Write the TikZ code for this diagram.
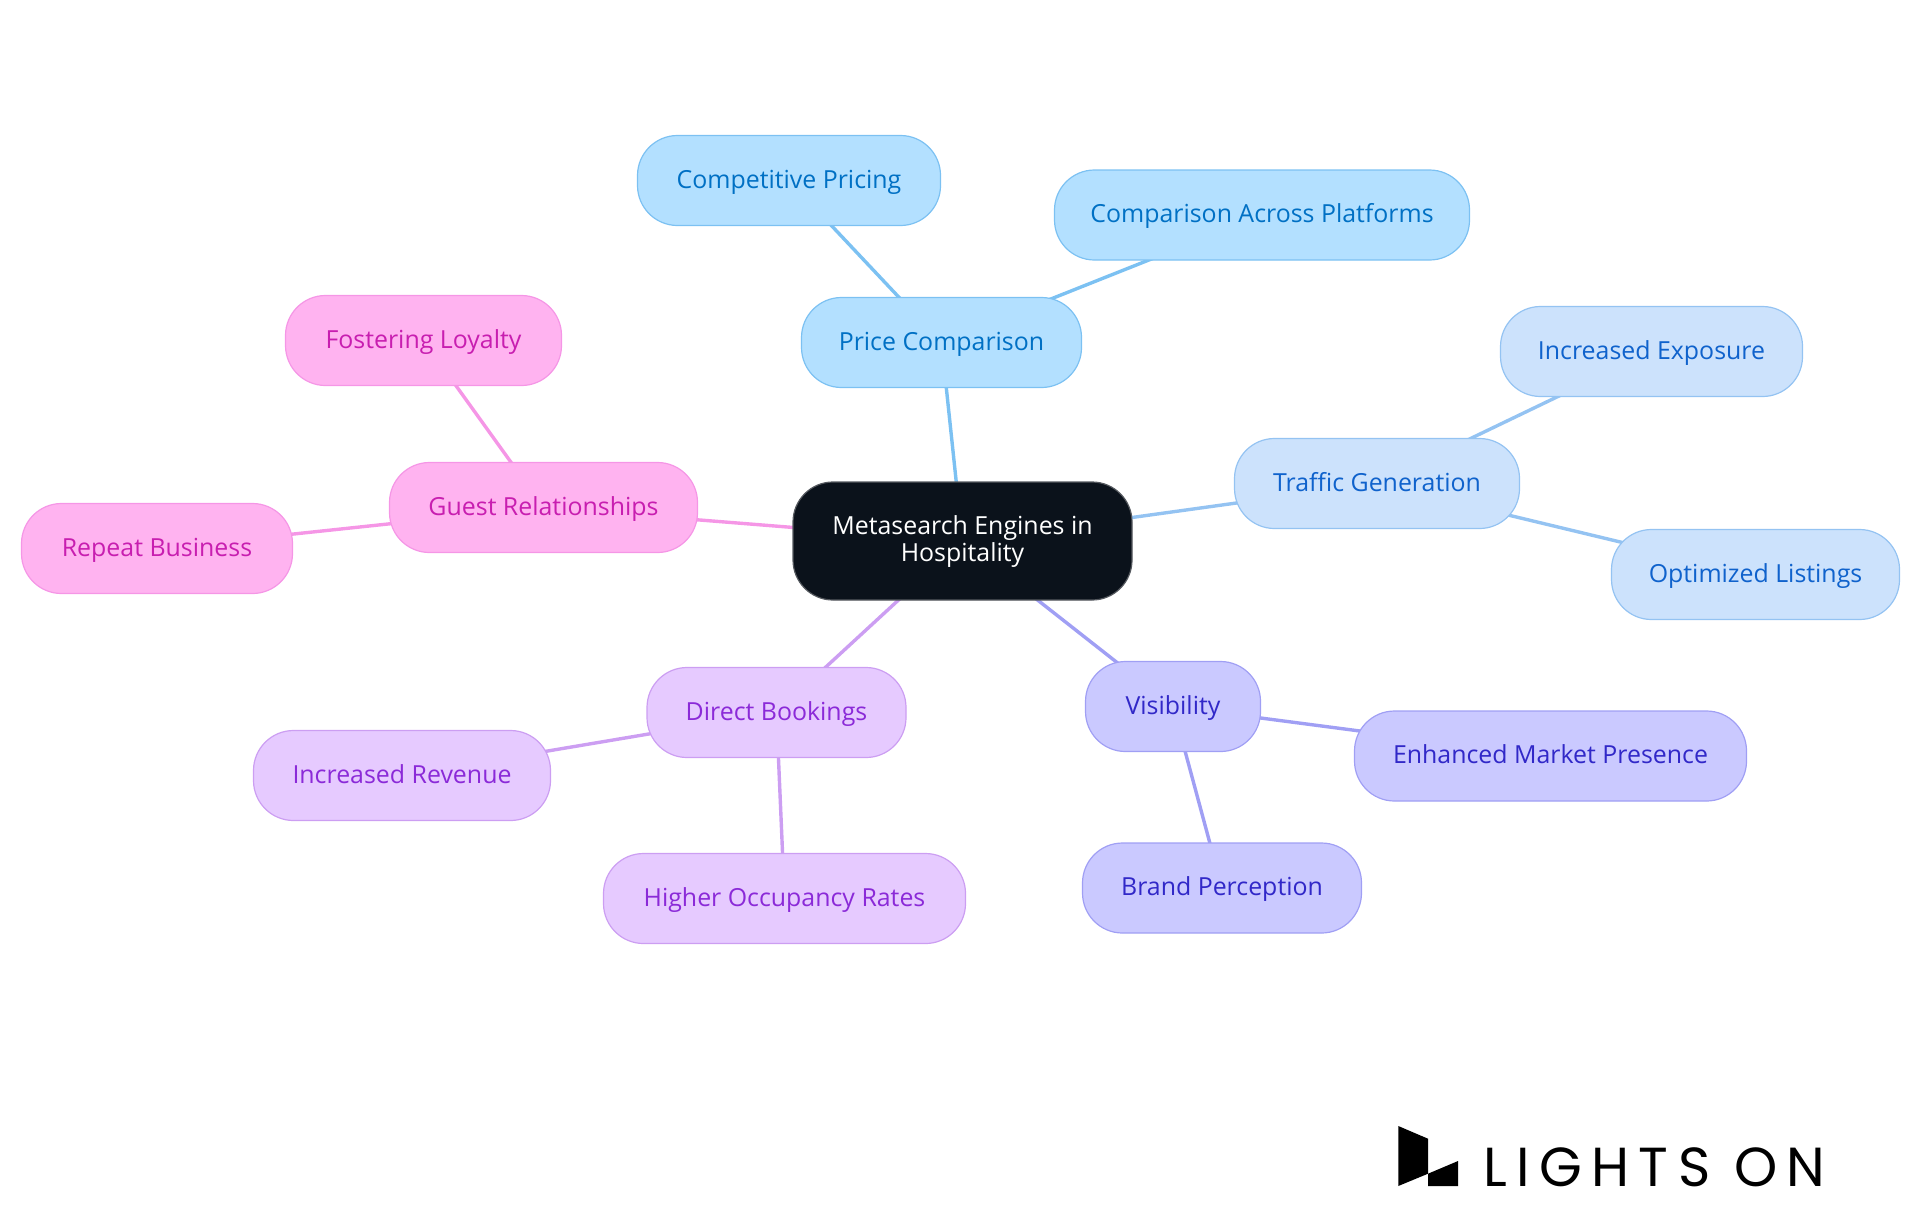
\documentclass[tikz,border=0pt]{standalone}
\usepackage{fontspec}
\setmainfont{Open Sans}
\newfontfamily\logofont[LetterSpace=17]{Poppins}
\usetikzlibrary{backgrounds}
\definecolor{rootfill}{HTML}{0B121B}
\definecolor{rootline}{HTML}{55595F}
\definecolor{pricefill}{HTML}{B3E0FF}
\definecolor{priceline}{HTML}{7CC1F2}
\definecolor{pricetext}{HTML}{0070C4}
\definecolor{trafficfill}{HTML}{CCE2FC}
\definecolor{trafficline}{HTML}{94C3F2}
\definecolor{traffictext}{HTML}{0F62CC}
\definecolor{visfill}{HTML}{CAC9FF}
\definecolor{visline}{HTML}{A09FF4}
\definecolor{vistext}{HTML}{3128C8}
\definecolor{directfill}{HTML}{E6CAFF}
\definecolor{directline}{HTML}{CC9EF2}
\definecolor{directtext}{HTML}{8B2AD8}
\definecolor{guestfill}{HTML}{FFB3F0}
\definecolor{guestline}{HTML}{F596E6}
\definecolor{guesttext}{HTML}{C81EB0}
\tikzset{
    mapbox/.style={rounded corners=20pt,line width=0.6pt,minimum height=45pt,inner sep=0pt,
        align=center,text height=9.5pt,text depth=2pt,font=\fontsize{12.45}{13.4}\selectfont},
    rootbox/.style={mapbox,draw=rootline,fill=rootfill,text=white,minimum height=59pt,text height=24pt,text depth=3.3pt},
    pricebox/.style={mapbox,draw=priceline,fill=pricefill,text=pricetext},
    trafficbox/.style={mapbox,draw=trafficline,fill=trafficfill,text=traffictext},
    visbox/.style={mapbox,draw=visline,fill=visfill,text=vistext},
    directbox/.style={mapbox,draw=directline,fill=directfill,text=directtext},
    guestbox/.style={mapbox,draw=guestline,fill=guestfill,text=guesttext},
    link/.style={line width=1.7pt}
}
\begin{document}
\begin{tikzpicture}[x=0.5pt,y=-0.5pt]
    \useasboundingbox (0,0) rectangle (1920,1215);
    % centre
    \node[rootbox,minimum width=169.5pt] (root) at (962.5,541) {Metasearch Engines in\\Hospitality};
    % price
    \node[pricebox,minimum width=140pt] (price) at (941.5,342.5) {Price Comparison};
    \node[pricebox,minimum width=151.5pt] (pricing) at (789,180.5) {Competitive Pricing};
    \node[pricebox,minimum width=207.5pt] (platforms) at (1262,215) {Comparison Across Platforms};
    % traffic
    \node[trafficbox,minimum width=142.5pt] (traffic) at (1377,483.5) {Traffic Generation};
    \node[trafficbox,minimum width=151pt] (exposure) at (1651.5,351.5) {Increased Exposure};
    \node[trafficbox,minimum width=144pt] (listings) at (1755.5,574.5) {Optimized Listings};
    % visibility
    \node[visbox,minimum width=87.5pt] (visibility) at (1173,706.5) {Visibility};
    \node[visbox,minimum width=196pt] (presence) at (1550.5,756) {Enhanced Market Presence};
    \node[visbox,minimum width=139.5pt] (brand) at (1222,888) {Brand Perception};
    % direct
    \node[directbox,minimum width=129.5pt] (direct) at (776.5,712.5) {Direct Bookings};
    \node[directbox,minimum width=148.5pt] (revenue) at (402,775.5) {Increased Revenue};
    \node[directbox,minimum width=181pt] (occupancy) at (784.5,898.5) {Higher Occupancy Rates};
    % guest
    \node[guestbox,minimum width=154pt] (guest) at (543.5,507.5) {Guest Relationships};
    \node[guestbox,minimum width=138pt] (loyalty) at (423.5,340.5) {Fostering Loyalty};
    \node[guestbox,minimum width=135.5pt] (repeat) at (157,548.5) {Repeat Business};
    % links go behind the boxes
    \begin{scope}[on background layer]
    \foreach \from/\to/\col in {root/price/priceline,price/pricing/priceline,price/platforms/priceline,
        root/traffic/trafficline,traffic/exposure/trafficline,traffic/listings/trafficline,
        root/visibility/visline,visibility/presence/visline,visibility/brand/visline,
        root/direct/directline,direct/revenue/directline,direct/occupancy/directline,
        root/guest/guestline,guest/loyalty/guestline,guest/repeat/guestline}
        \draw[link,draw=\col] (\from.center) -- (\to.center);
    \end{scope}
    % logo
    \fill[black] (1398.3,1126) -- (1428,1138.7) -- (1428,1173.7) -- (1398.3,1186) --cycle;
    \fill[black] (1428,1173.7) -- (1458,1161) -- (1458,1186) -- (1428,1186) --cycle;
    \node[anchor=base west,inner sep=0pt,font=\logofont\fontsize{27.5}{30}\selectfont] (logo) at (1483,1186) {LIGHTS ON};
\end{tikzpicture}
\end{document}
